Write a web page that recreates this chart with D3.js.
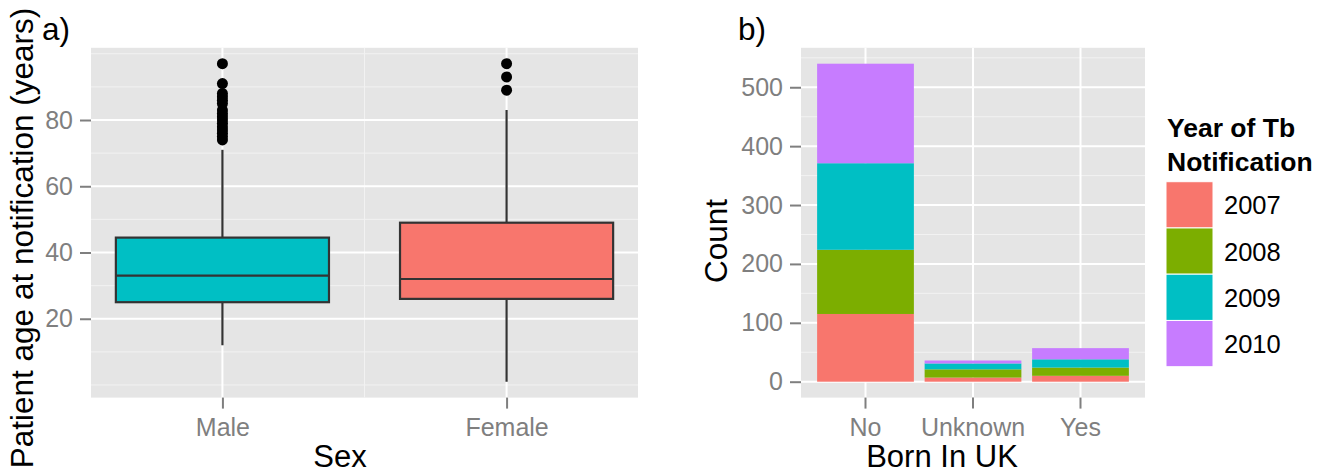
<!DOCTYPE html>
<html>
<head>
<meta charset="utf-8">
<script src="https://cdnjs.cloudflare.com/ajax/libs/d3/7.8.5/d3.min.js"></script>
<style>
  body { margin: 0; background: #fff; }
  text { font-family: "Liberation Sans", Arial, sans-serif; }
</style>
</head>
<body>
<div id="container"></div>
<script>
// panel a) boxplot of age by sex
var sexes = ['Male', 'Female']
var sexColors = ['#00BFC4', '#F8766D']
var boxQ1 = [25, 26]
var boxMedian = [33, 32]
var boxQ3 = [44.5, 49]
var whiskerLow = [12, 1]
var whiskerHigh = [71, 83]
var outliersMale = [74, 75, 76, 77, 78, 79, 80, 81, 82, 83, 85, 86, 87, 88, 91, 97]
var outliersFemale = [89, 93, 97]
var ageTicks = [20, 40, 60, 80]
var ageMinor = [0, 10, 30, 50, 70, 90, 100]

// panel b) stacked counts by born in UK
var bornCats = ['No', 'Unknown', 'Yes']
var years = ['2007', '2008', '2009', '2010']
var yearColors = ['#F8766D', '#7CAE00', '#00BFC4', '#C77CFF']
var count2007 = [115, 7, 10]
var count2008 = [109, 14, 14]
var count2009 = [147, 10, 14]
var count2010 = [169, 5, 19]
var countTicks = [0, 100, 200, 300, 400, 500]
var countMinor = [50, 150, 250, 350, 450, 550]

var WIDTH = 1328, HEIGHT = 473
var pTop = 47.8, pBottom = 397.6
var grey = '#7F7F7F'

var svg = d3.select('#container').append('svg')
  .attr('width', WIDTH)
  .attr('height', HEIGHT)

function hline(g, y, x0, x1, col, w) {
  g.append('line').attr('x1', x0).attr('x2', x1).attr('y1', y).attr('y2', y)
    .attr('stroke', col).attr('stroke-width', w)
}
function vline(g, x, col, w) {
  g.append('line').attr('x1', x).attr('x2', x).attr('y1', pTop).attr('y2', pBottom)
    .attr('stroke', col).attr('stroke-width', w)
}

// ---------- panel a ----------
var aLeft = 91, aRight = 638
var allAges = whiskerLow.concat(whiskerHigh, outliersMale, outliersFemale)
var ageMin = d3.min(allAges), ageMax = d3.max(allAges)
var pad = (ageMax - ageMin) * 0.05
var ya = d3.scaleLinear().domain([ageMin - pad, ageMax + pad]).range([pBottom, pTop])
// boxes occupy 0.625..2.375, expanded by 5%
var xa = d3.scaleLinear().domain([0.625 - 0.0875, 2.375 + 0.0875]).range([aLeft, aRight])

var ga = svg.append('g')
ga.append('rect').attr('x', aLeft).attr('y', pTop)
  .attr('width', aRight - aLeft).attr('height', pBottom - pTop).attr('fill', '#E5E5E5')
ageMinor.forEach(function (v) { hline(ga, ya(v), aLeft, aRight, '#F2F2F2', 1) })
vline(ga, xa(1.5), '#F2F2F2', 1)
ageTicks.forEach(function (v) { hline(ga, ya(v), aLeft, aRight, '#fff', 2) })
sexes.forEach(function (s, i) { vline(ga, xa(i + 1), '#fff', 2) })

sexes.forEach(function (s, i) {
  var cx = xa(i + 1)
  var bw = xa(i + 1 + 0.375) - xa(i + 1 - 0.375)
  ga.append('line').attr('x1', cx).attr('x2', cx)
    .attr('y1', ya(whiskerLow[i])).attr('y2', ya(whiskerHigh[i]))
    .attr('stroke', '#333').attr('stroke-width', 2.2)
  ga.append('rect').attr('x', cx - bw / 2).attr('y', ya(boxQ3[i]))
    .attr('width', bw).attr('height', ya(boxQ1[i]) - ya(boxQ3[i]))
    .attr('fill', sexColors[i]).attr('stroke', '#333').attr('stroke-width', 2.2)
  hline(ga, ya(boxMedian[i]), cx - bw / 2, cx + bw / 2, '#333', 2.2)
  var outs = i === 0 ? outliersMale : outliersFemale
  ga.selectAll(null).data(outs).enter().append('circle')
    .attr('cx', cx).attr('cy', function (d) { return ya(d) })
    .attr('r', 5.5).attr('fill', '#000')
})

var axA = ga.append('g').attr('transform', 'translate(' + aLeft + ',0)')
  .call(d3.axisLeft(ya).tickValues(ageTicks).tickSize(11).tickPadding(7))
var axAx = ga.append('g').attr('transform', 'translate(0,' + pBottom + ')')
  .call(d3.axisBottom(xa).tickValues([1, 2]).tickFormat(function (d) { return sexes[d - 1] })
    .tickSize(11).tickPadding(7))

// ---------- panel b ----------
var bLeft = 801, bRight = 1145
var stackRows = bornCats.map(function (c, i) {
  return { cat: c, '2007': count2007[i], '2008': count2008[i], '2009': count2009[i], '2010': count2010[i] }
})
var series = d3.stack().keys(years)(stackRows)
var maxCount = d3.max(series[series.length - 1], function (d) { return d[1] })
var yb = d3.scaleLinear().domain([-maxCount * 0.05, maxCount * 1.05]).range([pBottom, pTop])
var xb = d3.scaleBand().domain(bornCats).range([bLeft, bRight]).paddingInner(0.1).paddingOuter(0.15)

var gb = svg.append('g')
gb.append('rect').attr('x', bLeft).attr('y', pTop)
  .attr('width', bRight - bLeft).attr('height', pBottom - pTop).attr('fill', '#E5E5E5')
countMinor.forEach(function (v) { hline(gb, yb(v), bLeft, bRight, '#F2F2F2', 1) })
countTicks.forEach(function (v) { hline(gb, yb(v), bLeft, bRight, '#fff', 2) })
bornCats.forEach(function (c) { vline(gb, xb(c) + xb.bandwidth() / 2, '#fff', 2) })

series.forEach(function (s, k) {
  gb.selectAll(null).data(s).enter().append('rect')
    .attr('x', function (d) { return xb(d.data.cat) })
    .attr('width', xb.bandwidth())
    .attr('y', function (d) { return yb(d[1]) })
    .attr('height', function (d) { return yb(d[0]) - yb(d[1]) })
    .attr('fill', yearColors[k])
})

var axB = gb.append('g').attr('transform', 'translate(' + bLeft + ',0)')
  .call(d3.axisLeft(yb).tickValues(countTicks).tickSize(11).tickPadding(7))
var axBx = gb.append('g').attr('transform', 'translate(0,' + pBottom + ')')
  .call(d3.axisBottom(xb).tickSize(11).tickPadding(7))

// axis styling like ggplot
;[axA, axAx, axB, axBx].forEach(function (ax) {
  ax.select('.domain').remove()
  ax.selectAll('.tick line').attr('stroke', grey).attr('stroke-width', 2)
  ax.selectAll('.tick text').attr('fill', grey).attr('font-size', 25)
})
axAx.selectAll('.tick text').attr('dy', '0.8em')
axBx.selectAll('.tick text').attr('dy', '0.8em')

// titles
svg.append('text').attr('x', 340).attr('y', 467).attr('text-anchor', 'middle')
  .attr('font-size', 31).text('Sex')
svg.append('text').attr('x', 942).attr('y', 467).attr('text-anchor', 'middle')
  .attr('font-size', 31).text('Born In UK')
svg.append('text').attr('transform', 'translate(33,238) rotate(-90)').attr('text-anchor', 'middle')
  .attr('font-size', 31.5).text('Patient age at notification (years)')
svg.append('text').attr('transform', 'translate(727,241) rotate(-90)').attr('text-anchor', 'middle')
  .attr('font-size', 31.5).text('Count')
svg.append('text').attr('x', 42).attr('y', 40).attr('font-size', 31.5).text('a)')
svg.append('text').attr('x', 738).attr('y', 40).attr('font-size', 31.5).text('b)')

// legend
var lg = svg.append('g')
lg.append('text').attr('x', 1167).attr('y', 137).attr('font-size', 26.5)
  .attr('font-weight', 'bold').text('Year of Tb')
lg.append('text').attr('x', 1167).attr('y', 171).attr('font-size', 26.5)
  .attr('font-weight', 'bold').text('Notification')
var keyH = 46.25
years.forEach(function (y, i) {
  var ky = 181.7 + i * keyH
  lg.append('rect').attr('x', 1166).attr('y', ky).attr('width', 47).attr('height', keyH)
    .attr('fill', yearColors[i]).attr('stroke', '#fff').attr('stroke-width', 1)
  lg.append('text').attr('x', 1224).attr('y', ky + keyH / 2 + 9.5).attr('font-size', 25.5).text(y)
})
</script>
</body>
</html>
